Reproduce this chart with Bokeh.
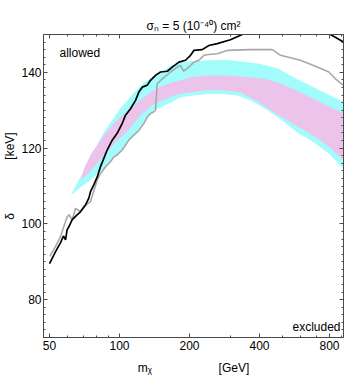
import numpy as np
from bokeh.plotting import figure
from bokeh.models import (LogAxis, LinearAxis, FixedTicker, Label, Range1d,
                          CustomJSTickFormatter, NumeralTickFormatter)
from bokeh.embed import file_html
from bokeh.resources import INLINE

# ---------------- data ----------------
x_ticks = [50, 100, 200, 400, 800]
x_minor = [60, 70, 80, 90, 300, 500, 600, 700, 900]
y_ticks = [80, 100, 120, 140]
y_minor = [v for v in range(70, 151, 2) if v not in (80, 100, 120, 140)]

# outer (cyan) band
cyan_up_x = [61.6, 64.7, 68.0, 72.8, 77.3, 81.2, 87.9, 94.2, 101.0, 114.9, 126.8, 135.9, 150.1,
             165.7, 182.9, 196.0, 239.0, 291.4, 331.4, 365.8, 404, 478, 560, 683, 808, 919]
cyan_up_y = [107.4, 110.0, 112.4, 115.5, 118.7, 121.6, 125.3, 127.9, 130.5, 134.5, 137.1, 138.4, 139.7,
             141.8, 142.6, 142.9, 143.2, 143.3, 142.9, 142.6, 142.2, 141.1, 138.7, 136.1, 133.9, 132.2]
cyan_lo_x = [61.6, 68.0, 75.0, 82.9, 91.5, 101.0, 109.3, 119.5, 126.8, 140.0, 160.9, 182.9, 208.1,
             239.0, 280.1, 321.7, 365.8, 392, 432.9, 492.5, 543.7, 588.6, 643.4, 710.5, 808, 919]
cyan_lo_y = [107.4, 109.7, 111.6, 113.9, 116.6, 118.9, 121.8, 124.7, 126.8, 130.0, 131.6, 133.4, 133.9,
             134.3, 134.3, 133.9, 132.6, 131.6, 130.0, 127.6, 125.5, 123.9, 122.6, 120.8, 118.2, 114.5]

# inner (pink) band
pink_up_x = [68.0, 70.0, 75.0, 81.2, 87.1, 93.3, 104.0, 119.5, 135.9, 154.6, 170.7, 202.0, 239.0,
             280.1, 331.4, 416, 492.5, 600, 731.6, 919]
pink_up_y = [111.6, 114.2, 118.2, 121.3, 123.9, 126.1, 128.9, 132.1, 134.7, 136.6, 137.4, 138.7, 139.2,
             139.2, 138.9, 138.3, 137.1, 134.7, 132.1, 129.2]
pink_lo_x = [68.0, 72.8, 80.4, 88.8, 96.1, 103.0, 109.3, 123.1, 140.0, 160.9, 177.6, 202.0, 239.0,
             280.1, 331.4, 392, 459.5, 543.7, 643.4, 731.6, 808, 919]
pink_lo_y = [111.6, 113.2, 116.1, 119.2, 121.6, 123.2, 124.7, 128.7, 131.6, 133.2, 134.2, 134.7, 135.3,
             135.3, 134.7, 132.4, 129.5, 126.8, 124.2, 122.1, 120.0, 116.8]

# black limit curve
black_x = [50.0, 53.0, 55.7, 57.4, 58.6, 59.5, 60.6, 62.6, 65.7, 67.9, 71.4, 73.8, 75.0, 77.5, 80.2,
           82.8, 85.6, 88.5, 93.0, 97.7, 102.7, 106.1, 111.5, 117.2, 121.1, 125.2, 131.5, 135.9,
           142.8, 150.1, 160.5, 168.6, 180.0, 192.3, 202.0, 208.8, 226.9, 242.2, 263.2, 300.0,
           337.0, 550.0, 808.0, 919.0]
black_y = [89.5, 92.6, 95.0, 96.8, 95.8, 98.4, 99.3, 101.1, 102.4, 103.2, 105.0, 106.8, 108.5, 110.3,
           112.4, 115.1, 117.3, 119.5, 122.1, 123.9, 126.5, 128.7, 130.4, 132.6, 134.8, 136.1, 136.6,
           137.9, 139.2, 140.1, 140.3, 141.4, 142.7, 143.2, 144.5, 145.8, 146.0, 147.1, 147.6, 148.6,
           150.0, 153.0, 150.0, 148.0]

# gray limit curve
gray_x = [50.1, 53.0, 55.8, 57.6, 59.6, 60.6, 62.6, 64.7, 68.0, 70.2, 75.0, 80.2, 82.9, 87.1, 91.5,
          94.5, 97.7, 102.7, 106.1, 109.6, 113.4, 121.1, 127.2, 131.6, 135.9, 140.4, 142.8, 145.2,
          152.6, 165.7, 177.1, 182.9, 188.9, 198.6, 208.8, 219.5, 230.7, 242.2, 263.2, 290.0,
          365.8, 453.5, 492.5, 600.0, 708.0, 794.5, 849.0, 919.0]
gray_y = [91.4, 94.0, 96.7, 99.3, 101.9, 102.4, 101.1, 104.1, 103.2, 104.6, 105.9, 111.6, 113.3,
          115.1, 116.4, 117.7, 118.2, 119.5, 120.8, 122.1, 123.0, 124.7, 126.5, 128.2, 129.1, 129.6,
          130.0, 137.0, 138.3, 140.1, 141.4, 141.8, 140.3, 141.4, 142.7, 143.2, 144.5, 144.7, 144.9,
          145.8, 146.0, 146.0, 144.5, 143.2, 141.4, 140.1, 138.3, 136.6]

title_text = "σ\u2099 = 5 (10\u207b\u2074\u2070) cm\u00b2"
NB = "\u00a0"
x_label = "m\u1d6a" + NB * 20 + "[GeV]"
y_label = NB * 6 + "δ" + NB * 16 + "[keV]"

FONT = "Liberation Sans"
AX = "#4a4a4a"

p = figure(x_axis_type="log", x_range=Range1d(47.1, 919), y_range=Range1d(70, 150),
           frame_width=300, frame_height=303, output_backend="svg", toolbar_location=None,
           min_border_left=43, min_border_right=6, min_border_top=34, min_border_bottom=51,
           background_fill_color="white", border_fill_color="white")
p.grid.visible = False
p.outline_line_color = AX

# bands
p.patch(cyan_up_x + cyan_lo_x[::-1], cyan_up_y + cyan_lo_y[::-1],
        fill_color="#a2fcfc", line_color=None)
p.patch(pink_up_x + pink_lo_x[::-1], pink_up_y + pink_lo_y[::-1],
        fill_color="#ebc3eb", line_color=None)

# curves
p.line(gray_x, gray_y, line_color="#a8a8a8", line_width=1.6)
p.line(black_x, black_y, line_color="black", line_width=1.7)

# axes
bottom = p.below[0]
left = p.left[0]
xticker = FixedTicker(ticks=x_ticks, minor_ticks=x_minor)
yticker = FixedTicker(ticks=y_ticks, minor_ticks=y_minor)
bottom.ticker = xticker
bottom.formatter = NumeralTickFormatter(format="0")
left.ticker = yticker

top = LogAxis(ticker=xticker, formatter=CustomJSTickFormatter(code="return ''"))
right = LinearAxis(ticker=yticker, formatter=CustomJSTickFormatter(code="return ''"))
p.add_layout(top, "above")
p.add_layout(right, "right")

for ax in [bottom, left, top, right]:
    ax.major_tick_in = 4
    ax.major_tick_out = 0
    ax.minor_tick_in = 2
    ax.minor_tick_out = 0
    ax.axis_line_color = AX
    ax.major_tick_line_color = AX
    ax.minor_tick_line_color = AX
    ax.major_label_text_font = FONT
    ax.major_label_text_font_size = "12px"
    ax.major_label_text_color = "black"
    ax.major_label_standoff = 3
top.major_label_standoff = 0
right.major_label_standoff = 0
left.major_label_standoff = 2

bottom.axis_label = x_label
bottom.axis_label_text_font = FONT
bottom.axis_label_text_font_size = "12px"
bottom.axis_label_text_font_style = "normal"
bottom.axis_label_text_color = "black"
bottom.axis_label_standoff = 8

left.axis_label = y_label
left.axis_label_text_font = FONT
left.axis_label_text_font_size = "12px"
left.axis_label_text_font_style = "normal"
left.axis_label_text_color = "black"
left.axis_label_standoff = 1

p.title.text = title_text
p.title.align = "center"
p.title.offset = 4
p.title.text_font = FONT
p.title.text_font_size = "12px"
p.title.text_font_style = "normal"
p.title.text_color = "black"
p.title.standoff = 3


def lab(text, x, y, align="left"):
    p.add_layout(Label(x=x, y=y, x_units="screen", y_units="screen", text=text,
                       text_font=FONT, text_font_size="12px", text_color="black",
                       text_align=align, text_baseline="alphabetic"))


lab("allowed", 16, 285)
lab("excluded", 297, 11, align="right")

open("out.html", "w").write(file_html(p, INLINE))
